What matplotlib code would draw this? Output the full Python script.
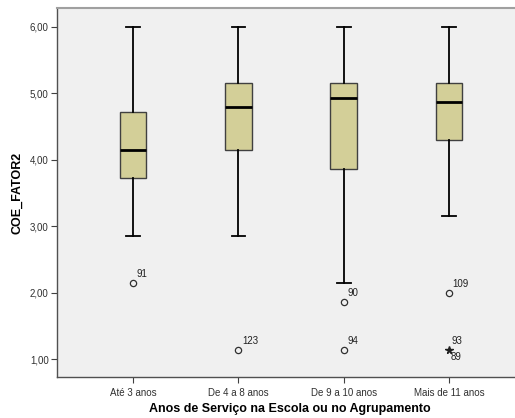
import matplotlib
matplotlib.use("Agg")
from matplotlib import pyplot as plt

plt.rcParams['font.family'] = ['Liberation Sans', 'DejaVu Sans']

groups = ["Até 3 anos", "De 4 a 8 anos", "De 9 a 10 anos", "Mais de 11 anos"]
whisk_lo = [2.85, 2.85, 2.14, 3.15]
q1 = [3.72, 4.15, 3.86, 4.29]
med = [4.15, 4.79, 4.93, 4.86]
q3 = [4.71, 5.15, 5.15, 5.15]
whisk_hi = [6.00, 6.00, 6.00, 6.00]

# outliers: (group index, value, case label)
out_grp = [0, 1, 2, 2, 3]
out_val = [2.14, 1.14, 1.86, 1.14, 2.00]
out_lab = ["91", "123", "90", "94", "109"]
# extremes (star)
ext_grp = [3]
ext_val = [1.14]

yticks = [1, 2, 3, 4, 5, 6]

fig = plt.figure(figsize=(5.15, 4.18), dpi=100)
ax = fig.add_axes([0.1107, 0.098, 0.8893, 0.883])
ax.set_facecolor('#f0f0f0')

stats = []
for i in range(len(groups)):
    stats.append(dict(whislo=whisk_lo[i], q1=q1[i], med=med[i], q3=q3[i],
                      whishi=whisk_hi[i], fliers=[]))
pos = list(range(1, len(groups) + 1))
ax.bxp(stats, positions=pos, widths=0.25, patch_artist=True, showfliers=False,
       boxprops=dict(facecolor='#d3cf98', edgecolor='#404040', linewidth=1.0),
       medianprops=dict(color='black', linewidth=2.0),
       whiskerprops=dict(color='black', linewidth=1.3),
       capprops=dict(color='black', linewidth=1.3), capwidths=0.13)

for g, v, lab in zip(out_grp, out_val, out_lab):
    ax.plot(pos[g], v, 'o', mfc='none', mec='#303030', ms=4.5, mew=0.9)
    ax.annotate(lab, (pos[g], v), xytext=(2.5, 6.5), textcoords='offset points',
                fontsize=7, color='#202020', va='center')
for g, v in zip(ext_grp, ext_val):
    ax.plot(pos[g], v, '*', color='#202020', ms=5.5)
    ax.annotate("93", (pos[g], v), xytext=(2, 6), textcoords='offset points',
                fontsize=7, color='#202020', va='center')
    ax.annotate("89", (pos[g], v), xytext=(1.5, -5.5), textcoords='offset points',
                fontsize=7, color='#202020', va='center')

ax.set_xlim(0.278, 4.627)
ax.set_ylim(0.73, 6.28)
ax.set_xticks(pos)
ax.set_xticklabels(groups, fontsize=7)
ax.set_yticks(yticks)
ax.set_yticklabels([("%.2f" % t).replace('.', ',') for t in yticks], fontsize=7)
ax.tick_params(length=4, width=0.8, color='#404040', labelcolor='#303030', pad=2)
ax.tick_params(axis='x', pad=4)

for s in ['left', 'bottom', 'top']:
    ax.spines[s].set_color('#505050')
    ax.spines[s].set_linewidth(1.0)
ax.spines['top'].set_color('#a0a0a0')
ax.spines['top'].set_linewidth(1.5)
ax.spines['right'].set_visible(False)

ax.set_xlabel("Anos de Serviço na Escola ou no Agrupamento", fontsize=9,
              fontweight='bold', va='center')
ax.set_ylabel("COE_FATOR2", fontsize=9, fontweight='bold', va='center')
ax.xaxis.set_label_coords(0.509, -0.0867)
ax.yaxis.set_label_coords(-0.0873, 0.5)

fig.savefig("out.png", dpi=100)
